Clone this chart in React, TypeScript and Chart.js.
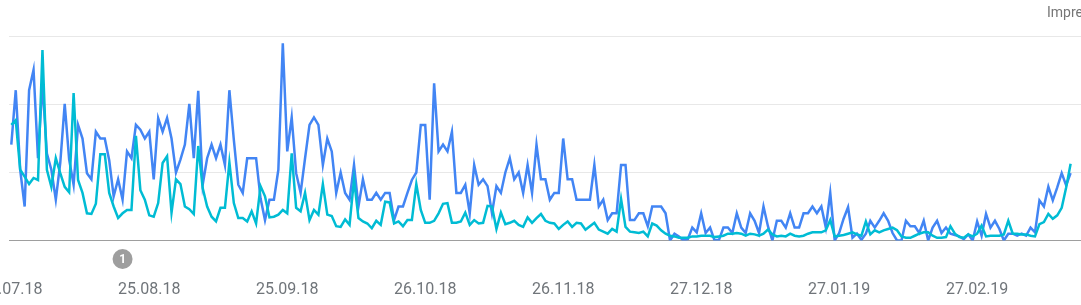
import React, { useEffect, useRef } from "react";
import { Chart, registerables } from "chart.js";

Chart.register(...registerables);

// Days counted from 25.07.18 (day 0)
const tickDays = [0, 31, 62, 93, 124, 155, 186, 217];
const tickLabels = ["25.07.18", "25.08.18", "25.09.18", "26.10.18", "26.11.18", "27.12.18", "27.01.19", "27.02.19"];

const annotationDays = [25];
const annotationLabels = ["1"];

const axisTitle = "Impressions";

const blueSeries = [
  141, 221, 104, 50, 221, 251, 121, 231, 128, 104,
  60, 114, 201, 119, 82, 170, 150, 99, 90, 160,
  150, 150, 118, 65, 90, 60, 131, 121, 170, 163,
  150, 160, 90, 180, 160, 180, 150, 100, 119, 141,
  201, 121, 220, 82, 121, 141, 121, 141, 111, 221,
  148, 82, 70, 121, 121, 121, 62, 30, 60, 60,
  104, 290, 131, 181, 99, 70, 121, 170, 181, 170,
  111, 150, 131, 70, 100, 70, 60, 111, 50, 90,
  60, 60, 70, 60, 70, 70, 30, 50, 50, 70,
  89, 100, 170, 170, 60, 231, 131, 141, 131, 160,
  70, 70, 82, 40, 111, 82, 90, 80, 40, 80,
  70, 100, 121, 90, 100, 70, 111, 70, 141, 90,
  90, 60, 70, 70, 150, 90, 90, 60, 60, 60,
  60, 111, 50, 60, 30, 40, 40, 111, 111, 30,
  30, 40, 40, 21, 50, 50, 50, 40, 0, 10,
  6, 0, 2, 19, 12, 40, 11, 19, 0, 1,
  19, 19, 11, 40, 19, 11, 40, 29, 11, 50,
  21, 0, 29, 29, 19, 40, 19, 19, 40, 40,
  50, 40, 50, 19, 70, 0, 11, 32, 49, 4,
  10, 1, 10, 29, 19, 29, 40, 29, 11, 0,
  0, 29, 21, 21, 11, 29, 0, 19, 29, 11,
  19, 10, 8, 6, 2, 9, 0, 28, 7, 39,
  19, 29, 17, 0, 10, 10, 7, 10, 7, 19,
  12, 59, 50, 79, 59, 78, 99, 81, 99,
];

const tealSeries = [
  170, 177, 104, 94, 83, 92, 89, 280, 104, 79,
  121, 99, 79, 71, 217, 89, 70, 40, 39, 54,
  127, 127, 70, 50, 33, 40, 45, 45, 154, 74,
  60, 37, 35, 55, 114, 124, 41, 90, 83, 50,
  46, 39, 139, 77, 50, 35, 28, 48, 48, 115,
  55, 33, 33, 28, 43, 25, 80, 65, 34, 35,
  38, 45, 40, 128, 48, 43, 70, 30, 45, 38,
  83, 38, 36, 21, 20, 31, 23, 90, 33, 28,
  25, 18, 29, 23, 57, 56, 25, 28, 21, 30,
  30, 83, 45, 26, 26, 29, 40, 54, 55, 26,
  26, 28, 41, 23, 30, 25, 26, 51, 50, 17,
  41, 24, 26, 29, 23, 20, 34, 26, 33, 39,
  29, 26, 25, 17, 23, 28, 20, 26, 25, 16,
  21, 26, 16, 13, 10, 17, 13, 61, 20, 13,
  12, 11, 13, 6, 25, 22, 15, 10, 7, 6,
  4, 4, 4, 6, 6, 7, 7, 7, 5, 6,
  7, 10, 10, 11, 10, 7, 10, 9, 7, 10,
  16, 9, 6, 7, 6, 10, 7, 6, 7, 10,
  12, 12, 12, 15, 30, 6, 7, 8, 10, 12,
  9, 7, 28, 9, 15, 12, 15, 17, 19, 15,
  6, 4, 4, 7, 10, 12, 12, 7, 4, 4,
  5, 21, 10, 5, 4, 9, 6, 10, 22, 6,
  7, 7, 7, 9, 29, 10, 10, 9, 9, 7,
  6, 24, 27, 39, 32, 37, 48, 78, 113,
];

const PAD = 60;
const W = 1081;
const H = 305;
// visible window: first day sits 6.7px from the left edge, 4.47px per day
const FIRST_X = 6.7;
const PX_PER_DAY = 4.47;

export default function App() {
  const ref = useRef<HTMLCanvasElement>(null);

  useEffect(() => {
    document.body.style.margin = "0";
    const canvas = ref.current;
    if (!canvas) return;

    const markerPlugin = {
      id: "markers",
      afterDraw(chart: any) {
        const ctx = chart.ctx;
        const xs = chart.scales.x;
        annotationDays.forEach((d, i) => {
          const x = xs.getPixelForValue(d);
          const y = 259;
          ctx.save();
          ctx.beginPath();
          ctx.arc(x, y, 10, 0, Math.PI * 2);
          ctx.fillStyle = "#9e9e9e";
          ctx.fill();
          ctx.fillStyle = "#ffffff";
          ctx.font = "bold 12px Roboto";
          ctx.textAlign = "center";
          ctx.textBaseline = "middle";
          ctx.fillText(annotationLabels[i], x, y + 0.5);
          ctx.restore();
        });
      },
    };

    const chart = new Chart(canvas, {
      type: "line",
      data: {
        datasets: [
          {
            label: "Clicks",
            data: tealSeries.map((v, i) => ({ x: i, y: v })),
            borderColor: "#00bcd4",
            borderWidth: 2.5,
            pointRadius: 0,
            tension: 0,
            fill: false,
            order: 0,
          },
          {
            label: "Impressions",
            data: blueSeries.map((v, i) => ({ x: i, y: v })),
            borderColor: "#4285f4",
            borderWidth: 2.5,
            pointRadius: 0,
            tension: 0,
            fill: false,
            order: 1,
          },
        ],
      },
      options: {
        animation: false,
        responsive: false,
        layout: { padding: { left: PAD, right: PAD, top: 36.5, bottom: 0 } },
        plugins: { legend: { display: false }, tooltip: { enabled: false } },
        scales: {
          x: {
            type: "linear",
            min: -1.5,
            max: 240.3,
            afterBuildTicks: (s: any) => {
              s.ticks = tickDays.map((v) => ({ value: v }));
            },
            ticks: {
              callback: (_v: any, i: number) => tickLabels[i],
              autoSkip: false,
              maxRotation: 0,
              minRotation: 0,
              padding: 40,
              font: { family: "Roboto", size: 16 },
              color: "#70757a",
            },
            grid: { display: false, drawTicks: false },
            border: { display: false },
            afterFit: (s: any) => {
              s.height = 64.5;
            },
          },
          y: {
            min: 0,
            max: 300,
            ticks: { display: false, stepSize: 100 },
            grid: {
              color: (c: any) => (c.tick && c.tick.value === 0 ? "#9e9e9e" : "#e8e8e8"),
              drawTicks: false,
              lineWidth: 1,
            },
            border: { display: false },
            afterFit: (s: any) => {
              s.width = 0;
            },
          },
        },
      },
      plugins: [markerPlugin],
    } as any);

    // calibrate the visible window of the x scale to the chart area
    const ca = chart.chartArea;
    const x0 = PAD + FIRST_X;
    (chart.options.scales as any).x.min = (ca.left - x0) / PX_PER_DAY;
    (chart.options.scales as any).x.max = (ca.right - x0) / PX_PER_DAY;
    chart.update();

    return () => chart.destroy();
  }, []);

  return (
    <div style={{ position: "relative", width: W, height: H, overflow: "hidden", background: "#ffffff" }}>
      <canvas
        ref={ref}
        width={W + 2 * PAD}
        height={H}
        style={{ position: "absolute", left: -PAD, top: 0, width: W + 2 * PAD, height: H }}
      />
      <span
        style={{
          position: "absolute",
          left: 1047,
          top: 2,
          font: "14px Roboto",
          lineHeight: "20px",
          color: "#757575",
          whiteSpace: "nowrap",
        }}
      >
        {axisTitle}
      </span>
    </div>
  );
}
